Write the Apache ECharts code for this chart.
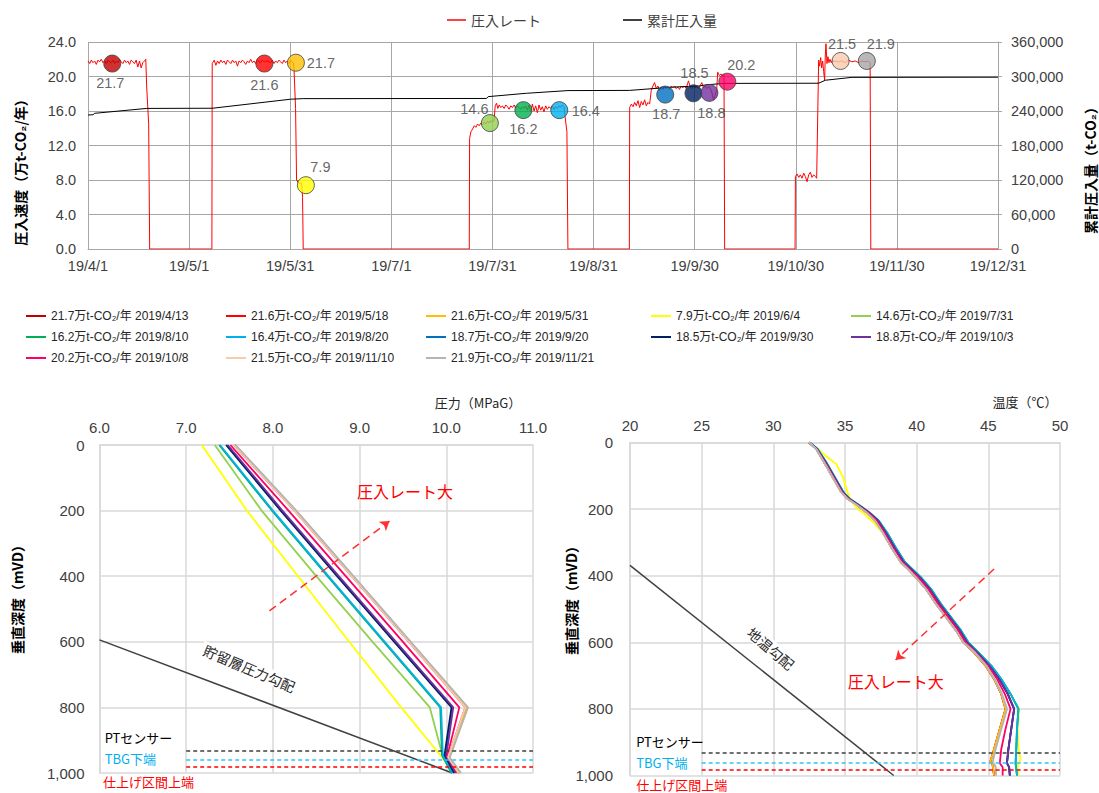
<!DOCTYPE html>
<html><head><meta charset="utf-8">
<script src="https://cdn.jsdelivr.net/npm/echarts@6/dist/echarts.min.js"></script>
<style>html,body{margin:0;padding:0;background:#fff;}#c{width:1099px;height:793px;}</style>
</head><body><div id="c"></div>
<script>
// ================= DATA =================
// top chart: x = days since 2019/4/1
const dateTickLabels = ['19/4/1','19/5/1','19/5/31','19/7/1','19/7/31','19/8/31','19/9/30','19/10/30','19/11/30','19/12/31'];
const rateTicks = [0, 4, 8, 12, 16, 20, 24];
const cumTicks = [0, 60000, 120000, 180000, 240000, 300000, 360000];

// injection rate (万t-CO2/年) [day, value]
const rateData = [
[0,21.8],[0.5,21.5],[1,21.9],[1.5,21.6],[2,21.8],[2.5,21.4],[3,21.9],[3.5,21.7],[4,22.0],[4.5,21.6],[5,21.8],[5.5,21.5],[6,21.9],[6.5,21.7],[7,21.6],[7.5,21.9],[8,21.5],[8.5,21.8],[9,21.6],[9.5,22.0],[10,21.7],[10.5,21.5],[11,21.9],[11.5,21.6],[12,21.8],[12.5,21.4],[13,21.9],[13.5,21.7],[14,21.5],[14.5,21.9],[15,21.1],[15.5,21.8],[16,21.0],[16.5,21.6],[17,21.8],[17.4,22.0],[17.67,18.8],[18.27,14.5],[18.57,0],
[37.3,0],[37.4,21.5],[38,21.9],[38.5,21.3],[39,21.8],[39.5,21.5],[40,21.9],[40.5,21.6],[41,21.8],[41.5,21.4],[42,21.9],[42.5,21.7],[43,21.5],[43.5,21.9],[44,21.6],[44.5,21.8],[45,21.2],[45.5,21.8],[46,21.6],[46.5,21.9],[47,21.7],[47.5,21.4],[48,21.8],[48.5,21.6],[49,22.0],[49.5,21.6],[50,21.8],[50.5,21.5],[51,21.9],[51.5,21.7],[52,21.6],[52.5,21.9],[53,21.7],[54,21.8],[55,21.6],[55.5,21.9],[56,21.5],[56.5,21.8],[57,21.6],[57.5,21.9],[58,21.7],[58.5,21.5],[59,21.9],[59.5,21.6],[60,21.8],[60.5,21.5],[61,21.9],[61.5,21.7],[61.8,21.6],[62.0,21.2],[62.5,16.3],[62.8,8.0],[63.3,7.7],[63.8,7.6],[64.3,7.7],[64.6,6.0],[64.8,0],
[114.8,0],[114.9,12.8],[115.3,13.6],[115.8,13.9],[116.3,14.3],[116.8,14.1],[117.3,14.5],[117.8,14.3],[118.3,14.6],[118.8,14.4],[119.3,14.7],[119.8,14.5],[120.3,14.8],[120.8,14.6],[121.3,14.9],[121.8,14.7],[122.3,15.0],[122.6,16.6],[123.0,16.9],[123.4,16.3],[123.8,16.7],[124.3,16.4],[124.8,16.6],[125.3,16.3],[125.8,16.7],[126.3,16.5],[126.8,16.2],[127.3,16.6],[127.8,16.4],[128.3,16.7],[128.8,16.3],[129.3,16.6],[129.8,16.4],[130.3,16.2],[130.8,16.5],[131.3,16.3],[131.8,16.6],[132.3,16.1],[132.8,16.7],[133.3,15.9],[133.8,16.8],[134.3,16.0],[134.8,16.6],[135.3,15.8],[135.8,16.7],[136.3,16.1],[136.8,16.5],[137.3,15.9],[137.8,16.6],[138.3,16.2],[138.8,16.5],[139.3,16.3],[139.8,16.6],[140.3,16.2],[140.8,16.5],[141.3,16.3],[141.8,16.6],[142.3,16.4],[142.8,16.7],[143.3,16.5],[143.6,15.5],[144.2,13.6],[144.5,0],
[163.0,0],[163.1,16.4],[163.6,16.8],[164.1,16.5],[164.6,17.0],[165.1,16.6],[165.6,17.2],[166.1,16.4],[166.6,17.1],[167.1,16.7],[167.6,17.3],[168.1,16.6],[168.6,17.0],[169.1,16.8],[169.6,18.4],[170.1,18.9],[170.6,19.3],[171.1,18.6],[171.6,18.9],[172.1,18.4],[172.6,18.8],[173.1,18.5],[173.6,18.9],[174.1,18.6],[174.6,18.8],[175.1,18.5],[175.6,18.9],[176.1,18.7],[176.6,18.9],[177.1,18.6],[177.6,18.8],[178.1,18.5],[178.6,18.9],[179.1,18.7],[179.6,18.9],[180.1,18.6],[180.8,19.5],[181.3,18.8],[181.8,18.6],[182.3,18.9],[182.8,18.7],[183.3,18.8],[183.8,18.6],[184.3,18.9],[184.8,19.3],[185.3,18.7],[185.8,18.9],[186.3,18.6],[186.8,18.8],[187.3,18.7],[187.8,18.2],[188.3,17.3],[188.8,17.8],[189.3,18.4],[189.6,20.5],[190.1,20.1],[190.6,20.3],[191.1,20.0],[191.5,20.2],[191.7,0],
[212.9,0],[213.0,8.4],[213.5,8.7],[214.0,8.3],[214.5,8.6],[215.0,8.2],[215.5,8.8],[216.0,8.4],[216.5,7.8],[217.0,8.6],[217.5,8.9],[218.0,8.3],[218.5,8.6],[219.0,8.4],[219.4,8.2],[220.0,21.9],[220.3,21.2],[220.6,22.2],[220.9,21.0],[221.2,21.8],[221.5,20.6],[221.8,19.6],[222.0,22.5],[222.2,23.8],[222.5,21.5],[222.8,22.3],[223.1,21.6],[223.4,22.0],[223.8,21.6],[224.2,21.9],[224.6,21.7],[225,21.8],[226,21.7],[227,21.8],[228,21.6],[229,21.9],[230,21.7],[231,21.8],[232,21.6],[233,21.8],[234,21.7],[235,21.8],[235.5,21.6],[235.7,0],[274,0]
];

// cumulative injected amount (t-CO2) [day, value]
const cumData = [[0,233000],[1.5,233500],[2,236000],[17.7,244500],[37.5,244800],[61,260500],[64.8,261500],[120,261800],[120.5,265000],[132,270800],[144.5,275500],[163,275800],[176,281500],[184,283500],[186,285500],[191.7,288000],[220,288300],[222,293500],[230,298500],[274,298800]];

// measurement markers (day, plotted rate, label)
const markerDay   = [7.3, 53.1, 62.6, 65.6, 121.0, 131.1, 141.9, 173.8, 182.3, 187.1, 192.5, 226.6, 234.5];
const markerRate  = [21.5, 21.5, 21.6, 7.4, 14.6, 16.1, 16.1, 17.9, 18.05, 18.1, 19.4, 21.8, 21.8];
const markerLabel = ['21.7','21.6','21.7','7.9','14.6','16.2','16.4','18.7','18.5','18.8','20.2','21.5','21.9'];

// profile names (legend)
const profileNames = [
 '21.7万t-CO₂/年 2019/4/13','21.6万t-CO₂/年 2019/5/18','21.6万t-CO₂/年 2019/5/31','7.9万t-CO₂/年 2019/6/4','14.6万t-CO₂/年 2019/7/31',
 '16.2万t-CO₂/年 2019/8/10','16.4万t-CO₂/年 2019/8/20','18.7万t-CO₂/年 2019/9/20','18.5万t-CO₂/年 2019/9/30','18.8万t-CO₂/年 2019/10/3',
 '20.2万t-CO₂/年 2019/10/8','21.5万t-CO₂/年 2019/11/10','21.9万t-CO₂/年 2019/11/21'];

// pressure profiles [MPaG, depth mVD]
const pDarkRed = [[7.56,0],[8.26,200],[8.92,400],[9.58,600],[10.23,800],[10.03,952],[10.15,1000]];
const pRed     = [[7.55,0],[8.25,200],[8.91,400],[9.57,600],[10.22,800],[10.02,952],[10.14,1000]];
const pOrange  = [[7.56,0],[8.26,200],[8.92,400],[9.58,600],[10.24,800],[10.03,953],[10.16,1000]];
const pYellow  = [[7.18,0],[7.70,200],[8.29,400],[8.88,600],[9.48,800],[9.97,958],[10.08,1000]];
const pLtGreen = [[7.33,0],[7.87,200],[8.50,400],[9.15,600],[9.81,800],[9.96,950],[10.07,1000]];
const pGreen   = [[7.38,0],[7.99,200],[8.63,400],[9.28,600],[9.93,800],[9.95,945],[10.06,1000]];
const pLtBlue  = [[7.39,0],[8.00,200],[8.64,400],[9.29,600],[9.94,800],[9.96,945],[10.07,1000]];
const pBlue    = [[7.47,0],[8.10,200],[8.75,400],[9.41,600],[10.07,800],[9.99,945],[10.10,1000]];
const pNavy    = [[7.46,0],[8.09,200],[8.74,400],[9.40,600],[10.06,800],[9.98,945],[10.09,1000]];
const pPurple  = [[7.48,0],[8.11,200],[8.76,400],[9.42,600],[10.08,800],[10.00,948],[10.11,1000]];
const pPink    = [[7.51,0],[8.18,200],[8.84,400],[9.50,600],[10.15,800],[10.01,950],[10.13,1000]];
const pPeach   = [[7.55,0],[8.25,200],[8.91,400],[9.57,600],[10.22,800],[10.02,952],[10.14,1000]];
const pGray    = [[7.57,0],[8.27,200],[8.93,400],[9.59,600],[10.25,800],[10.04,953],[10.17,1000]];
const reservoirGrad = [[6.0,594],[10.07,1000]];

// temperature profiles [°C, depth mVD]  (upper parts per group, then tails)
const tempUpperA = [[32.5,0],[33.0,20],[33.55,60],[34.15,105],[34.75,150],[35.2,170],[35.9,190],[36.5,210],[37.1,235],[37.7,275],[38.3,320],[38.9,360],[39.4,380],[39.95,405],[40.65,440],[41.35,485],[42.05,525],[42.75,565],[43.25,600]];
const tempUpperB = [[32.5,0],[33.0,20],[33.6,60],[34.2,105],[34.8,150],[35.25,170],[35.95,190],[36.6,210],[37.2,235],[37.8,275],[38.4,320],[39.0,360],[39.5,380],[40.1,405],[40.8,440],[41.5,485],[42.2,525],[42.9,565],[43.4,600]];
const tempUpperC = [[32.5,0],[33.05,20],[33.65,60],[34.25,105],[34.85,150],[35.3,170],[36.0,190],[36.65,210],[37.3,235],[37.9,275],[38.5,320],[39.1,360],[39.6,380],[40.2,405],[40.9,440],[41.6,485],[42.3,525],[43.0,565],[43.5,600]];
const tempUpperD = [[32.55,0],[33.1,20],[33.7,60],[34.3,105],[34.9,150],[35.35,170],[36.05,190],[36.7,210],[37.35,235],[38.0,275],[38.6,320],[39.2,360],[39.7,380],[40.3,405],[41.0,440],[41.7,485],[42.4,525],[43.1,565],[43.6,600]];
const tempUpperYellow = [[32.5,0],[33.1,20],[33.8,45],[34.4,65],[34.85,103],[35.2,153],[35.5,180],[35.9,200],[36.35,214],[37.1,245],[37.8,280],[38.5,320],[38.95,345],[39.2,362],[39.6,382],[40.2,405]];
const tailA  = [[44.0,630],[44.8,670],[45.4,710],[45.9,755],[46.2,800],[45.8,860],[45.4,921],[45.15,958],[45.3,968],[45.4,1000]];
const tailA2 = [[44.05,630],[44.85,670],[45.45,710],[45.95,755],[46.3,800],[45.9,860],[45.5,921],[45.3,960],[45.5,972],[45.55,1000]];
const tailB  = [[44.1,630],[44.95,670],[45.6,710],[46.15,755],[46.55,800],[46.2,860],[45.9,921],[45.8,963],[46.0,975],[46.0,1000]];
const tailC  = [[44.2,630],[45.05,670],[45.75,710],[46.35,755],[46.8,800],[46.6,860],[46.4,921],[46.3,963],[46.45,975],[46.5,1000]];
const tailD  = [[44.3,630],[45.2,670],[45.9,710],[46.55,755],[47.1,800],[47.0,860],[46.95,921],[46.9,963],[47.0,1000]];
const tailY  = [[44.3,630],[45.2,670],[45.9,710],[46.55,755],[47.15,800],[47.05,860],[47.1,921],[47.25,950],[47.05,973],[47.1,1000]];
const geoGrad = [[20,369],[38.4,1000]];

// reference depths (PT sensor, TBG bottom, top of completion)
const refDepth = [931, 961, 982];

// ================= STYLE / LAYOUT =================
const FONT = "'Liberation Sans', Arial, 'Noto Sans CJK JP', sans-serif";
const JFONT = "'Noto Sans CJK JP', 'Liberation Sans', sans-serif";
const profileColors = ['#C00000','#FF0000','#FFC000','#FFFF00','#92D050','#00B050','#00B0F0','#0070C0','#002060','#7030A0','#FF0066','#F8CBAD','#B4B4B4'];
const markerColors  = ['#C00000','#FF0000','#FFC000','#FFFF00','#92D050','#00B050','#00B0F0','#0070C0','#002060','#7030A0','#FF0066','#F8CBAD','#A6A6A6'];
const markerLabelOffset = [[-2,19],[0,21],[25,0],[14.5,-18.5],[-15.5,-14],[0,18.5],[26.5,1],[1,19],[1,-20.5],[2,20.5],[14,-17],[1.5,-17],[14,-17]];
const pressureSets = [pDarkRed,pRed,pOrange,pYellow,pLtGreen,pGreen,pLtBlue,pBlue,pNavy,pPurple,pPink,pPeach,pGray];
const tempSets = [
  tempUpperA.concat(tailA), tempUpperA.concat(tailA), tempUpperA.concat(tailA),
  tempUpperYellow.concat(tempUpperD.slice(14), tailY),
  tempUpperD.concat(tailD), tempUpperD.concat(tailD), tempUpperD.concat(tailD),
  tempUpperC.concat(tailC), tempUpperC.concat(tailC), tempUpperC.concat(tailC),
  tempUpperB.concat(tailB), tempUpperA.concat(tailA2), tempUpperA.concat(tailA2)];

const fmtComma = v => String(v).replace(/\B(?=(\d{3})+(?!\d))/g, ',');
const tickStep = 274 / 9;
const LBL = '#404040';
const GRID_TOP = '#A6A6A6';
const GRID_BOT = '#D9D9D9';

const series = [
  {name:'圧入レート', type:'line', xAxisIndex:0, yAxisIndex:0, data:rateData, showSymbol:false,
   lineStyle:{color:'#FF0000', width:1}, itemStyle:{color:'#FF0000'}, z:2},
  {name:'累計圧入量', type:'line', xAxisIndex:0, yAxisIndex:1, data:cumData, showSymbol:false,
   lineStyle:{color:'#000000', width:1}, itemStyle:{color:'#000000'}, z:3},
  {name:'測定点', type:'scatter', xAxisIndex:0, yAxisIndex:0, symbolSize:17, z:5,
   data: markerDay.map((d,i)=>({
     value:[d, markerRate[i]],
     itemStyle:{color:markerColors[i], borderColor:'#404040', borderWidth:1},
     label:{show:true, position:'inside', formatter:markerLabel[i], offset:markerLabelOffset[i],
            color:LBL, fontSize:14.5, fontFamily:FONT}
   }))}
];
profileNames.forEach((n,i)=>{
  series.push({name:n, type:'line', xAxisIndex:1, yAxisIndex:2, data:pressureSets[i], showSymbol:false,
    lineStyle:{color:profileColors[i], width:1.8}, itemStyle:{color:profileColors[i]}, z:3});
});
profileNames.forEach((n,i)=>{
  series.push({name:n, type:'line', xAxisIndex:2, yAxisIndex:3, data:tempSets[i], showSymbol:false,
    lineStyle:{color:profileColors[i], width:1.8}, itemStyle:{color:profileColors[i]}, z:3});
});
const refColors = ['#404040','#33C3F5','#FF0000'];
function refLines(x0, x1){
  return refDepth.map((d,i)=>[{coord:[x0,d], lineStyle:{color:refColors[i], type:[4,3], width:1.5}}, {coord:[x1,d]}]);
}
series.push({type:'line', xAxisIndex:1, yAxisIndex:2, data:reservoirGrad, showSymbol:false,
  lineStyle:{color:'#404040', width:1.5}, itemStyle:{color:'#404040'}, z:2,
  markLine:{silent:true, animation:false, symbol:['none','none'], label:{show:false},
    data: refLines(7, 11).concat([[{coord:[7.96,506], lineStyle:{color:'#FF3030', type:[8,5], width:1.5}}, {coord:[9.345,232], symbol:'arrow', symbolSize:9}]])}});
series.push({type:'line', xAxisIndex:2, yAxisIndex:3, data:geoGrad, showSymbol:false,
  lineStyle:{color:'#404040', width:1.5}, itemStyle:{color:'#404040'}, z:2,
  markLine:{silent:true, animation:false, symbol:['none','none'], label:{show:false},
    data: refLines(25, 50).concat([[{coord:[45.4,380], lineStyle:{color:'#FF3030', type:[8,5], width:1.5}}, {coord:[38.53,653], symbol:'arrow', symbolSize:9}]])}});

const legendCols = [26, 226, 426, 651, 851];
const legendRows = [310, 331, 352];
const legends = [
  {data:['圧入レート'], left:447, top:13, padding:0, icon:'rect', itemWidth:19, itemHeight:1.5,
   textStyle:{fontSize:14, color:LBL, fontFamily:JFONT}},
  {data:['累計圧入量'], left:623, top:13, padding:0, icon:'rect', itemWidth:19, itemHeight:1.5,
   textStyle:{fontSize:14, color:LBL, fontFamily:JFONT}}
].concat(profileNames.map((n,i)=>({
  data:[n], left:legendCols[i%5], top:legendRows[Math.floor(i/5)], padding:0, icon:'rect',
  itemWidth:20, itemHeight:2, textStyle:{fontSize:12, color:'#262626', fontFamily:FONT}
})));

function valAxisX(g, min, max, interval, fmt){
  return {gridIndex:g, type:'value', position:'top', min, max, interval,
    axisLine:{show:true, lineStyle:{color:GRID_BOT, width:1.5}}, axisTick:{show:false},
    splitLine:{show:true, lineStyle:{color:GRID_BOT, width:1.5}},
    axisLabel:{color:LBL, fontSize:15, margin:10, formatter:fmt, fontFamily:FONT, showMinLabel:true, showMaxLabel:true}};
}
function depthAxis(g, margin){
  return {gridIndex:g, type:'value', inverse:true, min:0, max:1000, interval:200,
    axisLine:{show:true, lineStyle:{color:GRID_BOT, width:1.5}}, axisTick:{show:false},
    splitLine:{show:true, lineStyle:{color:GRID_BOT, width:1.5}},
    axisLabel:{color:LBL, fontSize:15, margin, formatter:fmtComma, fontFamily:FONT, showMinLabel:true, showMaxLabel:true}};
}

const option = {
  animation:false,
  backgroundColor:'#ffffff',
  textStyle:{fontFamily:FONT},
  legend: legends,
  grid:[
    {left:88, top:42, width:910, height:207, containLabel:false, outerBoundsMode:'none'},
    {left:99.5, top:445, width:433.5, height:328, containLabel:false, outerBoundsMode:'none'},
    {left:630, top:442.5, width:430, height:333, containLabel:false, outerBoundsMode:'none'}
  ],
  xAxis:[
    {gridIndex:0, type:'value', min:0, max:274, interval:30.4445,
     axisLine:{show:true, lineStyle:{color:GRID_TOP}}, axisTick:{show:false},
     splitLine:{show:true, lineStyle:{color:GRID_TOP, width:1}},
     axisLabel:{color:LBL, fontSize:14.5, margin:10, fontFamily:FONT, showMinLabel:true, showMaxLabel:true,
       formatter: v => dateTickLabels[Math.round(v / tickStep)]}},
    valAxisX(1, 6, 11, 1, v => v.toFixed(1)),
    valAxisX(2, 20, 50, 5, v => String(v))
  ],
  yAxis:[
    {gridIndex:0, type:'value', position:'left', min:rateTicks[0], max:rateTicks[rateTicks.length-1], interval:rateTicks[1]-rateTicks[0],
     axisLine:{show:false}, axisTick:{show:false},
     splitLine:{show:true, lineStyle:{color:GRID_TOP, width:1}},
     axisLabel:{color:LBL, fontSize:14.5, margin:12, fontFamily:FONT, formatter: v => v.toFixed(1)}},
    {gridIndex:0, type:'value', position:'right', min:cumTicks[0], max:cumTicks[cumTicks.length-1], interval:cumTicks[1]-cumTicks[0],
     axisLine:{show:true, lineStyle:{color:GRID_TOP}}, axisTick:{show:true, length:4, lineStyle:{color:GRID_TOP}},
     splitLine:{show:false},
     axisLabel:{color:LBL, fontSize:14.5, margin:13, fontFamily:FONT, formatter: fmtComma}},
    depthAxis(1, 15),
    depthAxis(2, 17)
  ],
  series
};

const chart = echarts.init(document.getElementById('c'), null, {renderer:'svg'});
chart.setOption(option);

// ---- annotations positioned through the chart's own scales ----
const px = (g, x, y) => chart.convertToPixel({gridIndex:g}, [x, y]);
function txt(p, text, o){
  o = o || {};
  return {type:'text', x:p[0], y:p[1], rotation:o.rot || 0, z:50,
    style:{text, fill:o.color || '#000', fontSize:o.size || 13, fontFamily:o.font || JFONT,
      fontWeight:o.weight || 'normal', align:o.align || 'left', verticalAlign:'middle',
      backgroundColor:o.bg, padding:o.bg ? [1,3] : 0}};
}
const graphics = [
  // axis titles
  txt([20,169], '圧入速度（万t-CO₂/年）', {rot:Math.PI/2, align:'center', size:14, weight:'bold'}),
  txt([1090,167], '累計圧入量（t-CO₂）', {rot:Math.PI/2, align:'center', size:14, weight:'bold'}),
  txt([478,402], '圧力（MPaG）', {align:'center', size:13, color:'#262626'}),
  txt([1025,401], '温度（℃）', {align:'center', size:13, color:'#262626'}),
  txt([17,596], '垂直深度（mVD）', {rot:Math.PI/2, align:'center', size:14, weight:'bold'}),
  txt([571,597], '垂直深度（mVD）', {rot:Math.PI/2, align:'center', size:14, weight:'bold'}),
  // pressure chart notes
  txt(px(1, 8.97, 140), '圧入レート大', {color:'#FF0000', size:16}),
  txt(px(1, 7.73, 681), '貯留層圧力勾配', {align:'center', size:14, color:'#262626', rot:-0.40, bg:'#ffffff'}),
  txt(px(1, 6.06, 892), 'PTセンサー', {size:13}),
  txt(px(1, 6.06, 957), 'TBG下端', {size:13, color:'#00B0F0'}),
  txt(px(1, 6.04, 1027), '仕上げ区間上端', {size:13, color:'#FF0000'}),
  // temperature chart notes
  txt(px(2, 35.2, 716), '圧入レート大', {color:'#FF0000', size:16}),
  txt(px(2, 29.84, 618), '地温勾配', {align:'center', size:14, color:'#262626', rot:-0.70, bg:'#ffffff'}),
  txt(px(2, 20.43, 898), 'PTセンサー', {size:13}),
  txt(px(2, 20.43, 961), 'TBG下端', {size:13, color:'#00B0F0'}),
  txt(px(2, 20.43, 1028), '仕上げ区間上端', {size:13, color:'#FF0000'})
];
chart.setOption({graphic: graphics});
</script>
</body></html>
